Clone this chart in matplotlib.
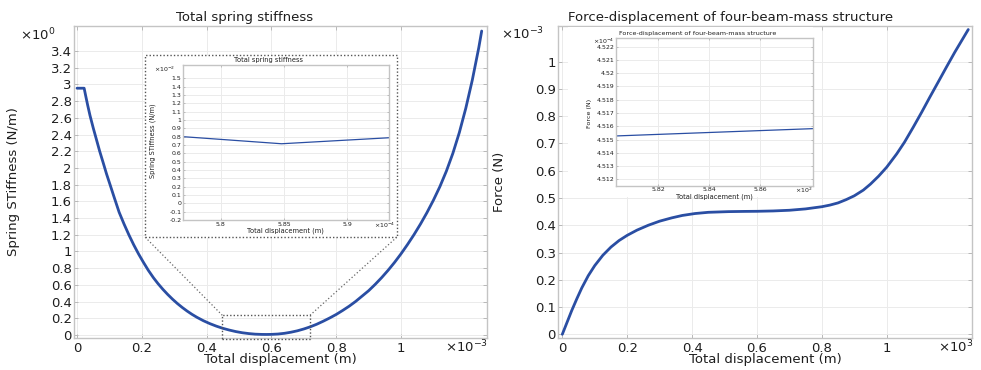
import matplotlib
matplotlib.use("Agg")
import matplotlib.pyplot as plt
from matplotlib.patches import Rectangle
from matplotlib.lines import Line2D
from matplotlib.ticker import FixedLocator, FuncFormatter

# ---- data -------------------------------------------------------------
# Total spring stiffness: displacement in units of 1e-3 m, stiffness in N/m
disp_k = [0.000, 0.022, 0.027, 0.033, 0.040, 0.050, 0.060, 0.070, 0.081,
          0.091, 0.102, 0.115, 0.130, 0.145, 0.160, 0.175, 0.190, 0.205,
          0.220, 0.236, 0.250, 0.265, 0.280, 0.295, 0.310, 0.325, 0.340,
          0.355, 0.370, 0.390, 0.410, 0.430, 0.450, 0.470, 0.490, 0.510,
          0.530, 0.550, 0.570, 0.585, 0.600, 0.620, 0.640, 0.660, 0.680,
          0.700, 0.720, 0.740, 0.760, 0.780, 0.800, 0.820, 0.840, 0.860,
          0.880, 0.900, 0.920, 0.940, 0.960, 0.980, 1.000, 1.020, 1.040,
          1.060, 1.080, 1.100, 1.120, 1.140, 1.160, 1.180, 1.200, 1.220,
          1.240, 1.249]
stiffness = [2.955, 2.955, 2.86, 2.75, 2.63, 2.48, 2.34, 2.20, 2.06,
             1.93, 1.80, 1.645, 1.47, 1.33, 1.20, 1.08, 0.97, 0.87,
             0.775, 0.685, 0.615, 0.547, 0.485, 0.428, 0.376, 0.329, 0.286,
             0.247, 0.212, 0.171, 0.136, 0.106, 0.080, 0.059, 0.041, 0.027,
             0.017, 0.010, 0.007, 0.0065, 0.0075, 0.0115, 0.020, 0.033, 0.050,
             0.072, 0.098, 0.129, 0.165, 0.204, 0.246, 0.294, 0.345, 0.402,
             0.466, 0.530, 0.605, 0.686, 0.774, 0.869, 0.972, 1.083, 1.201,
             1.328, 1.465, 1.614, 1.777, 1.962, 2.175, 2.424, 2.716, 3.052,
             3.44, 3.64]

# Force-displacement: displacement in units of 1e-3 m, force in units of 1e-3 N
disp_f = [0.000, 0.015, 0.029, 0.045, 0.060, 0.080, 0.100, 0.125, 0.150,
          0.175, 0.200, 0.230, 0.265, 0.300, 0.337, 0.370, 0.409, 0.450,
          0.512, 0.560, 0.600, 0.650, 0.700, 0.750, 0.800, 0.825, 0.850,
          0.875, 0.900, 0.928, 0.950, 0.975, 1.000, 1.031, 1.055, 1.082,
          1.108, 1.133, 1.160, 1.185, 1.210, 1.2515]
force = [0.000, 0.045, 0.087, 0.131, 0.170, 0.215, 0.252, 0.290, 0.320,
         0.344, 0.363, 0.382, 0.400, 0.415, 0.427, 0.436, 0.443, 0.4475,
         0.4500, 0.4508, 0.4512, 0.4525, 0.4550, 0.4600, 0.4680, 0.4740, 0.482,
         0.494, 0.508, 0.529, 0.551, 0.580, 0.613, 0.662, 0.705, 0.760,
         0.815, 0.870, 0.928, 0.982, 1.035, 1.118]

# close-up around the stiffness minimum (x: 1e-4 m, y: 1e-2 N/m)
zoom_disp_k = [5.77, 5.848, 5.933]
zoom_stiff = [0.80, 0.715, 0.787]

# close-up of the force plateau (x: 1e-4 m, y: 1e-4 N)
zoom_disp_f = [5.8034, 5.8805]
zoom_force = [4.51527, 4.51582]

# tick positions
k_xticks = [0, 0.2, 0.4, 0.6, 0.8, 1.0]
k_yticks = [round(0.2 * i, 1) for i in range(18)]
f_xticks = [0, 0.2, 0.4, 0.6, 0.8, 1.0]
f_yticks = [round(0.1 * i, 1) for i in range(11)]
zk_xticks = [5.8, 5.85, 5.9]
zk_yticks = [round(-0.2 + 0.1 * i, 1) for i in range(18)]
zf_xticks = [5.82, 5.84, 5.86]
zf_yticks = [round(4.512 + 0.001 * i, 3) for i in range(11)]

# ---- figure -----------------------------------------------------------
W, H = 981, 370
fig = plt.figure(figsize=(W / 100, H / 100), dpi=100)
plt.rcParams['font.family'] = ['DejaVu Sans']
plt.rcParams['mathtext.fontset'] = 'dejavusans'

LINE = '#2a4ea3'
TXT = '#1e1e1e'


def rect(x0, y0, x1, y1):
    """pixel box (origin top-left) -> figure fraction rect"""
    return [x0 / W, 1 - y1 / H, (x1 - x0) / W, (y1 - y0) / H]


def fx(x):
    return x / W


def fy(y):
    return 1 - y / H


def fmt(v, _=None):
    s = ('%.4f' % v).rstrip('0').rstrip('.')
    return '0' if s in ('-0', '') else s


def style(ax, fs, xt, yt, tick_len=3.0, pad=3.0):
    for s in ax.spines.values():
        s.set_color('#c4c4c4')
        s.set_linewidth(1.0)
    ax.xaxis.set_major_locator(FixedLocator(xt))
    ax.yaxis.set_major_locator(FixedLocator(yt))
    ax.xaxis.set_major_formatter(FuncFormatter(fmt))
    ax.yaxis.set_major_formatter(FuncFormatter(fmt))
    ax.tick_params(direction='in', length=tick_len, width=0.6, color='#b0b0b0',
                   labelsize=fs, labelcolor=TXT, top=True, right=True, pad=pad)
    ax.grid(True, color='#ebebeb', linewidth=0.7)
    ax.set_axisbelow(True)


# ---- left: total spring stiffness -------------------------------------
axk = fig.add_axes(rect(74, 26, 487, 338))
axk.plot(disp_k, stiffness, color=LINE, lw=2.0, solid_joinstyle='round',
         solid_capstyle='round')
axk.set_xlim(-0.0093, 1.2654)
axk.set_ylim(-0.036, 3.70)
style(axk, 9.5, k_xticks, k_yticks, pad=2.6)
axk.tick_params(axis='y', pad=1.5)
fig.text(fx(245), fy(17), 'Total spring stiffness', ha='center', va='center',
         fontsize=9.5, color=TXT)
fig.text(fx(14), fy(182), 'Spring STiffness (N/m)', rotation=90, ha='center',
         va='center', fontsize=9.5, color=TXT)
fig.text(fx(280.5), fy(359.5), 'Total displacement (m)', ha='center', va='center',
         fontsize=9.5, color=TXT)
fig.text(fx(55), fy(35), r'$\times10^{0}$', ha='right', va='center',
         fontsize=9.5, color=TXT)
fig.text(fx(488), fy(347), r'$\times10^{-3}$', ha='right', va='center',
         fontsize=9.5, color=TXT)

# zoom marker on the main curve
axk.add_patch(Rectangle((0.4485, -0.051), 0.719 - 0.4485, 0.236 + 0.051,
                        fill=False, ec='#555555', lw=1.0, ls=(0, (1, 1.5)),
                        clip_on=False, zorder=3))
# white frame holding the close-up
fig.add_artist(Rectangle((fx(145), fy(237)), fx(397) - fx(145), fy(55) - fy(237),
                         transform=fig.transFigure, fc='white', ec='#555555',
                         lw=1.0, ls=(0, (1, 1.5)), zorder=1))
for (x0, y0), (x1, y1) in [((222.3, 315.3), (145, 237)), ((310, 315.3), (397, 237))]:
    fig.add_artist(Line2D([fx(x0), fx(x1)], [fy(y0), fy(y1)], transform=fig.transFigure,
                          color='#666666', lw=0.9, ls=(0, (1, 1.8)), zorder=1))

axzk = fig.add_axes(rect(183, 65, 389, 220), zorder=2)
axzk.plot(zoom_disp_k, zoom_stiff, color=LINE, lw=0.9)
axzk.set_xlim(5.77, 5.933)
axzk.set_ylim(-0.2, 1.66)
style(axzk, 4.5, zk_xticks, zk_yticks, tick_len=1.5, pad=1.2)
fig.text(fx(268.5), fy(60), 'Total spring stiffness', ha='center', va='center',
         fontsize=4.8, color=TXT)
fig.text(fx(152.5), fy(141), 'Spring STiffness (N/m)', rotation=90, ha='center',
         va='center', fontsize=4.8, color=TXT)
fig.text(fx(285.5), fy(231), 'Total displacement (m)', ha='center', va='center',
         fontsize=4.8, color=TXT)
fig.text(fx(175.5), fy(69), r'$\times10^{-2}$', ha='right', va='center',
         fontsize=4.5, color=TXT)
fig.text(fx(395), fy(225), r'$\times10^{-4}$', ha='right', va='center',
         fontsize=4.5, color=TXT)

# ---- right: force-displacement ----------------------------------------
axf = fig.add_axes(rect(558, 26, 972, 338))
axf.plot(disp_f, force, color=LINE, lw=2.0, solid_joinstyle='round',
         solid_capstyle='round')
axf.set_xlim(-0.0133, 1.263)
axf.set_ylim(-0.0136, 1.131)
style(axf, 9.5, f_xticks, f_yticks, pad=2.6)
axf.tick_params(axis='y', pad=1.5)
fig.text(fx(731), fy(17), 'Force-displacement of four-beam-mass structure',
         ha='center', va='center', fontsize=9.5, color=TXT)
fig.text(fx(500), fy(182), 'Force (N)', rotation=90, ha='center', va='center',
         fontsize=9.5, color=TXT)
fig.text(fx(765), fy(359.5), 'Total displacement (m)', ha='center', va='center',
         fontsize=9.5, color=TXT)
fig.text(fx(544), fy(34), r'$\times10^{-3}$', ha='right', va='center',
         fontsize=9.5, color=TXT)
fig.text(fx(973), fy(347), r'$\times10^{3}$', ha='right', va='center',
         fontsize=9.5, color=TXT)

fig.add_artist(Rectangle((fx(568), fy(197)), fx(813) - fx(568), fy(27) - fy(197),
                         transform=fig.transFigure, fc='white', ec='none', zorder=1))
axzf = fig.add_axes(rect(616, 38.3, 812.7, 185.7), zorder=2)
axzf.plot(zoom_disp_f, zoom_force, color=LINE, lw=0.9)
axzf.set_xlim(5.8034, 5.8805)
axzf.set_ylim(4.51152, 4.52263)
style(axzf, 4.5, zf_xticks, zf_yticks, tick_len=1.5, pad=1.2)
fig.text(fx(698), fy(33), 'Force-displacement of four-beam-mass structure',
         ha='center', va='center', fontsize=4.6, color=TXT)
fig.text(fx(589), fy(113), 'Force (N)', rotation=90, ha='center', va='center',
         fontsize=4.6, color=TXT)
fig.text(fx(714.5), fy(196.5), 'Total displacement (m)', ha='center', va='center',
         fontsize=4.8, color=TXT)
fig.text(fx(614), fy(41), r'$\times10^{-4}$', ha='right', va='center',
         fontsize=4.5, color=TXT)
fig.text(fx(813), fy(190), r'$\times10^{2}$', ha='right', va='center',
         fontsize=4.5, color=TXT)

fig.savefig('out.png', dpi=100)
